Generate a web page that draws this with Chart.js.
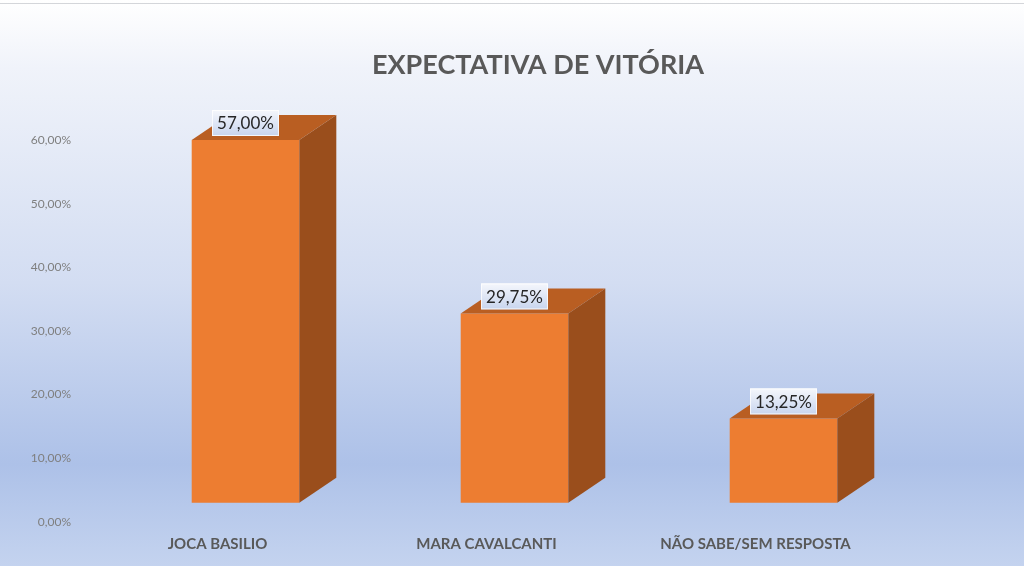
<!DOCTYPE html>
<html>
<head>
<meta charset="utf-8">
<script src="https://cdn.jsdelivr.net/npm/chart.js@4"></script>
<style>
  html, body { margin: 0; padding: 0; }
  body { width: 1024px; height: 566px; overflow: hidden; background: #fff; }
  /* 3px a mais embaixo para o zero cair em y=522 */
  #wrap { width: 1024px; height: 569px; }
</style>
</head>
<body>
<div id="wrap"><canvas id="grafico"></canvas></div>
<script>
// dados do gráfico
const categorias = ['JOCA BASILIO', 'MARA CAVALCANTI', 'NÃO SABE/SEM RESPOSTA'];
const valores = [57.00, 29.75, 13.25];
const ticksY = [0, 10, 20, 30, 40, 50, 60];
const titulo = 'EXPECTATIVA DE VITÓRIA';

const fmt = v => v.toFixed(2).replace('.', ',') + '%';
const FONTE = 'Lato, "Open Sans", sans-serif';

// fundo em degradê + linha fina no topo + título
const fundo = {
  id: 'fundo',
  beforeDraw(chart) {
    const { ctx, width } = chart;
    const height = 566;
    const g = ctx.createLinearGradient(0, 0, 0, height);
    g.addColorStop(0, '#ffffff');
    g.addColorStop(0.12, '#f0f3fa');
    g.addColorStop(0.5, '#d3ddf2');
    g.addColorStop(0.82, '#adc1e8');
    g.addColorStop(1, '#c4d3ef');
    ctx.save();
    ctx.fillStyle = g;
    ctx.fillRect(0, 0, width, chart.height);
    ctx.strokeStyle = '#d4d6da';
    ctx.lineWidth = 1;
    ctx.beginPath();
    ctx.moveTo(0, 3.5);
    ctx.lineTo(width, 3.5);
    ctx.stroke();
    // título (deslocado à direita como no original)
    ctx.fillStyle = '#595959';
    ctx.font = 'bold 27px ' + FONTE;
    ctx.textAlign = 'center';
    ctx.textBaseline = 'middle';
    ctx.fillText(titulo, 538, 65);
    ctx.restore();
  }
};

// faces de cima e do lado (efeito 3D) + rótulos
const barras3d = {
  id: 'barras3d',
  afterDatasetsDraw(chart) {
    const ctx = chart.ctx;
    const dx = 37, dy = 25;
    const meta = chart.getDatasetMeta(0);
    ctx.save();
    meta.data.forEach((bar, i) => {
      const { x, y, base, width } = bar.getProps(['x', 'y', 'base', 'width'], true);
      const l = x - width / 2, r = x + width / 2;
      // topo
      ctx.fillStyle = '#b95e22';
      ctx.beginPath();
      ctx.moveTo(l, y);
      ctx.lineTo(l + dx, y - dy);
      ctx.lineTo(r + dx, y - dy);
      ctx.lineTo(r, y);
      ctx.closePath();
      ctx.fill();
      // lateral
      ctx.fillStyle = '#9a4e1c';
      ctx.beginPath();
      ctx.moveTo(r, y);
      ctx.lineTo(r + dx, y - dy);
      ctx.lineTo(r + dx, base - dy);
      ctx.lineTo(r, base);
      ctx.closePath();
      ctx.fill();

      // rótulo
      const txt = fmt(valores[i]);
      ctx.font = '17px ' + FONTE;
      const w = ctx.measureText(txt).width + 10;
      const h = 26;
      const bx = x - w / 2, by = y - 30;
      const g = ctx.createLinearGradient(0, by, 0, by + h);
      g.addColorStop(0, '#f5f7fc');
      g.addColorStop(1, '#c8d5ee');
      ctx.fillStyle = g;
      ctx.fillRect(bx, by, w, h);
      ctx.strokeStyle = 'rgba(255,255,255,0.8)';
      ctx.lineWidth = 1;
      ctx.strokeRect(bx + 0.5, by + 0.5, w - 1, h - 1);
      ctx.fillStyle = '#262626';
      ctx.textAlign = 'center';
      ctx.textBaseline = 'middle';
      ctx.fillText(txt, x, by + h / 2 + 1);
    });
    ctx.restore();
  }
};

new Chart(document.getElementById('grafico'), {
  type: 'bar',
  data: {
    labels: categorias,
    datasets: [{
      data: valores,
      yAxisID: 'yBarra',
      backgroundColor: '#ed7d31',
      borderWidth: 0,
      categoryPercentage: 1,
      barPercentage: 0.4
    }]
  },
  options: {
    responsive: true,
    maintainAspectRatio: false,
    animation: false,
    layout: { padding: { left: 0, right: 0, top: 140, bottom: 0 } },
    plugins: {
      legend: { display: false },
      tooltip: { enabled: false },
      title: { display: false }
    },
    scales: {
      x: {
        grid: { display: false, drawTicks: false },
        border: { display: false },
        ticks: {
          color: '#595959',
          font: { family: FONTE, size: 15, weight: 'bold' },
          labelOffset: -28,
          padding: 13,
          maxRotation: 0,
          autoSkip: false
        }
      },
      y: {
        position: 'left',
        min: 0,
        max: 60,
        grid: { display: false, drawTicks: false },
        border: { display: false },
        afterBuildTicks(axis) { axis.ticks = ticksY.map(v => ({ value: v })); },
        ticks: {
          color: '#7f7f7f',
          font: { family: FONTE, size: 12 },
          padding: 40,
          callback: v => fmt(v)
        },
        afterFit(axis) { axis.width = 111; }
      },
      yBarra: {
        position: 'right',
        min: -3,
        max: 57,
        grid: { display: false, drawTicks: false },
        border: { display: false },
        ticks: { display: false },
        afterFit(axis) { axis.width = 106; }
      }
    }
  },
  plugins: [fundo, barras3d]
});
</script>
</body>
</html>
